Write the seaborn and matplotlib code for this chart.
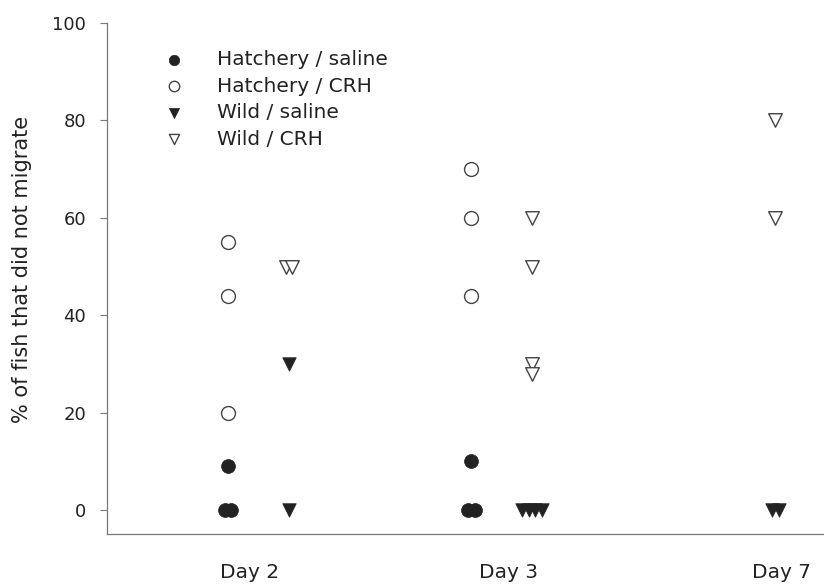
import matplotlib
matplotlib.use("Agg")
import matplotlib.pyplot as plt
import seaborn as sns
import pandas as pd

# Percentage of fish that did not migrate, per release group and day
days = ["Day 2", "Day 3", "Day 7"]
groups = ["Hatchery / saline", "Hatchery / CRH", "Wild / saline", "Wild / CRH"]
hatchery_saline = [[9, 0, 0], [10, 0, 0], []]
hatchery_crh = [[55, 44, 20], [70, 60, 44], []]
wild_saline = [[30, 0], [0, 0, 0, 0], [0, 0]]
wild_crh = [[50, 50], [60, 50, 30, 28], [80, 60]]
y_ticks = [0, 20, 40, 60, 80, 100]

sns.set_theme(style="white")
plt.rcParams["font.family"] = ["DejaVu Sans"]
ink = "#222222"

# Long-form table
rows = []
for group, per_day in zip(groups, [hatchery_saline, hatchery_crh, wild_saline, wild_crh]):
    for d, vals in enumerate(per_day):
        for v in vals:
            rows.append((group, days[d], d, v))
df = pd.DataFrame(rows, columns=["group", "day", "day_idx", "pct"])

# Column placement: hatchery on the day position, wild a quarter step right;
# tied values within a column are spread sideways so they stay visible.
origin_shift = {"Hatchery": 0.0, "Wild": 0.25}
tie_step = 0.027
df["x"] = df["day_idx"] + df["group"].str.split(" /").str[0].map(origin_shift)
df["rank"] = df.groupby(["group", "day", "pct"]).cumcount()
df["n"] = df.groupby(["group", "day", "pct"])["pct"].transform("size")
df["x"] = df["x"] + (df["rank"] - (df["n"] - 1) / 2) * tie_step

styles = {
    "Hatchery / saline": dict(marker="o", s=100, color=ink, edgecolor=ink, linewidth=0.5),
    "Hatchery / CRH": dict(marker="o", s=100, color="white", edgecolor="#444444", linewidth=1.0),
    "Wild / saline": dict(marker="v", s=95, color=ink, edgecolor=ink, linewidth=0.5),
    "Wild / CRH": dict(marker="v", s=95, color="white", edgecolor="#444444", linewidth=1.0),
}

fig = plt.figure(figsize=(8.24, 5.86), dpi=100)
ax = fig.add_axes([0.130, 0.0887, 0.870, 0.8721])

for g in groups:
    sub = df[df["group"] == g]
    sns.scatterplot(data=sub, x="x", y="pct", ax=ax, label=g, zorder=3, **styles[g])

ax.set_xlim(-0.497, 2.45)
ax.set_ylim(-4.9, 100)

ax.set_yticks(y_ticks)
ax.set_yticklabels([str(t) for t in y_ticks])
ax.set_xticks([0.09, 1.154, 2.275])
ax.set_xticklabels(days)

ax.tick_params(axis="y", which="both", left=True, length=5, width=0.8,
               color="#777777", pad=10, labelsize=13, labelcolor=ink)
ax.tick_params(axis="x", which="both", bottom=False, length=0, pad=21,
               labelsize=14.5, labelcolor=ink)

ax.set_xlabel("")
ax.set_ylabel("% of fish that did not migrate", fontsize=15, color=ink)
ax.yaxis.set_label_coords(-0.1046, 0.517)

for side in ["top", "right"]:
    ax.spines[side].set_visible(False)
for side in ["left", "bottom"]:
    ax.spines[side].set_color("#777777")
    ax.spines[side].set_linewidth(0.9)

leg = ax.legend(loc="upper left", bbox_to_anchor=(0.0654, 0.9468), frameon=False,
                fontsize=14.5, markerscale=0.75, handletextpad=1.14,
                labelspacing=0.37, borderaxespad=0.0, borderpad=0.0)
for t in leg.get_texts():
    t.set_color(ink)

fig.savefig("out.png", dpi=100, facecolor="white")
